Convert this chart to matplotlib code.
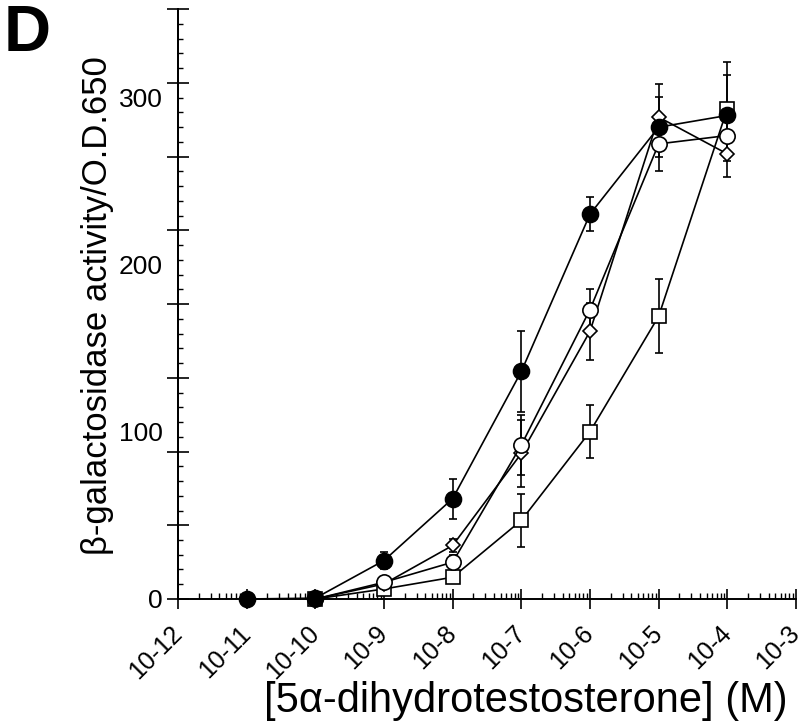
import numpy as np
import matplotlib
matplotlib.use("Agg")
import matplotlib.pyplot as plt
from matplotlib.ticker import FixedLocator, LogLocator, NullFormatter

plt.rcParams["font.family"] = ["Liberation Sans", "DejaVu Sans"]

# Data (activity units, M concentrations)
conc_filled = [1e-11, 1e-10, 1e-9, 1e-8, 1e-7, 1e-6, 1e-5, 1e-4]
filled = [0, 0.5, 23, 60, 136, 230, 282, 289]
filled_err = [0, 0, 5, 12, 24, 10, 18, 24]

conc = [1e-10, 1e-9, 1e-8, 1e-7, 1e-6, 1e-5, 1e-4]
open_circle = [0, 10, 22, 92, 173, 272, 277]
open_circle_err = [0, 3, 4, 18, 12, 16, 15]
diamond = [0, 9, 32, 87, 160, 288, 266]
diamond_err = [0, 3, 4, 20, 17, 20, 14]
square = [0, 6, 13, 47, 100, 169, 293]
square_err = [0, 2, 3, 16, 16, 22, 28]

xtick_pos = [1e-12, 1e-11, 1e-10, 1e-9, 1e-8, 1e-7, 1e-6, 1e-5, 1e-4, 1e-3]
xtick_labels = ["10-12", "10-11", "10-10", "10-9", "10-8", "10-7",
                "10-6", "10-5", "10-4", "10-3"]
ytick_labels = [0, 100, 200, 300]

ymax = 352.6

fig = plt.figure(figsize=(8, 7.28), dpi=100)
ax = fig.add_axes([0.2225, 0.1772, 0.7725, 0.8104])
ax.set_xscale("log")
ax.set_xlim(1e-12, 1e-3)
ax.set_ylim(0, ymax)

for s in ["top", "right"]:
    ax.spines[s].set_visible(False)
for s in ["left", "bottom"]:
    ax.spines[s].set_linewidth(1.4)

common = dict(color="black", lw=1.2, elinewidth=1.2, capsize=3, capthick=1.2,
              clip_on=False, zorder=3)
ax.errorbar(conc, square, yerr=square_err, marker="s", ms=9.5, mfc="white",
            mec="black", mew=1.2, **common)
ax.errorbar(conc, diamond, yerr=diamond_err, marker="D", ms=7.5, mfc="white",
            mec="black", mew=1.2, **common)
ax.errorbar(conc, open_circle, yerr=open_circle_err, marker="o", ms=11, mfc="white",
            mec="black", mew=1.2, **common)
ax.errorbar(conc_filled, filled, yerr=filled_err, marker="o", ms=11.5, mfc="black",
            mec="black", mew=1.2, **common)

# x axis ticks
ax.set_xticks(xtick_pos)
ax.set_xticklabels(xtick_labels, rotation=45, ha="right", va="center",
                   rotation_mode="anchor", fontsize=18)
ax.xaxis.set_minor_locator(LogLocator(base=10, subs=np.arange(2, 10), numticks=100))
ax.xaxis.set_minor_formatter(NullFormatter())
ax.tick_params(axis="x", which="major", direction="inout", length=14.5, width=1.2, pad=15)
ax.tick_params(axis="x", which="minor", direction="in", length=4.3, width=1.0)

# y labels (no marks) and separate tick marks
ax.set_yticks(ytick_labels)
ax.tick_params(axis="y", which="major", length=0, pad=11, labelsize=19)
sec = ax.secondary_yaxis("left")
major_marks = np.arange(9) * ymax / 8
minor_marks = [v for i, v in enumerate(np.arange(41) * ymax / 40) if i % 5]
sec.set_yticks(major_marks)
sec.set_yticklabels([])
sec.yaxis.set_minor_locator(FixedLocator(minor_marks))
sec.tick_params(which="major", direction="inout", length=16, width=1.2)
sec.tick_params(which="minor", direction="in", length=3.6, width=1.0)
sec.spines["left"].set_linewidth(1.4)

fig.text(0.1225, 0.58, "β-galactosidase activity/O.D.650", rotation=90,
         ha="center", va="center", fontsize=25)
fig.text(0.6575, 0.037, "[5α-dihydrotestosterone] (M)", ha="center", va="center",
         fontsize=30)
fig.text(0.005, 0.995, "D", fontsize=47, fontweight="bold", ha="left", va="top")

fig.savefig("out.png", dpi=100)
